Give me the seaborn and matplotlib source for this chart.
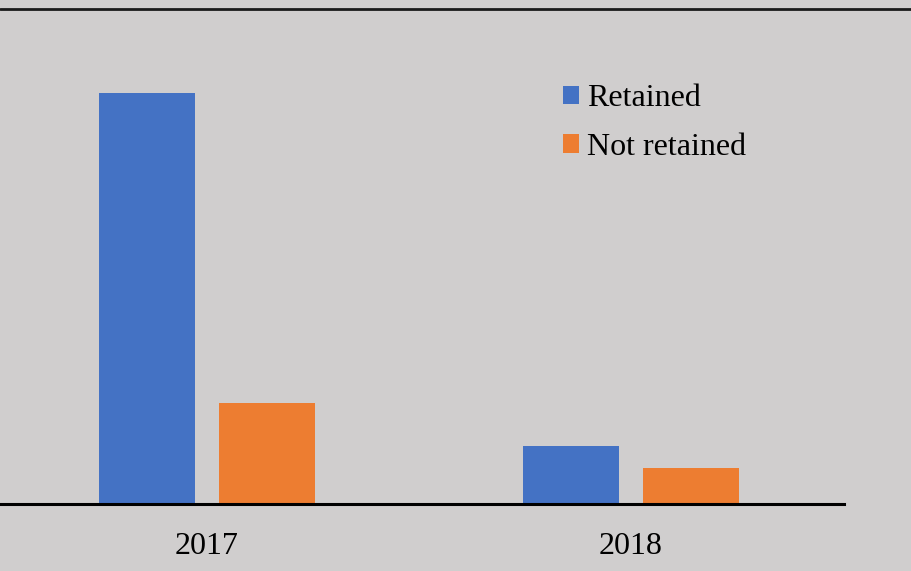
import matplotlib
matplotlib.use("Agg")
import matplotlib.pyplot as plt
from matplotlib.lines import Line2D
from matplotlib.patches import Rectangle
import seaborn as sns
import pandas as pd

# Counts of retained vs. not retained by year
years = ["2017", "2018"]
statuses = ["Retained", "Not retained"]
retained = [57, 8]
not_retained = [14, 5]
colors = ["#4472C4", "#ED7D31"]
bg = "#D0CECE"

df = pd.DataFrame({
    "year": years * 2,
    "status": [statuses[0]] * len(years) + [statuses[1]] * len(years),
    "count": retained + not_retained,
})

sns.set_theme(style="white")
plt.rcParams["font.family"] = ["Liberation Serif", "DejaVu Serif"]

W, H = 911, 571
fig = plt.figure(figsize=(W / 100, H / 100), dpi=100, facecolor=bg)
ax = fig.add_axes([0, 67 / H, 844 / W, 432.6 / H])
ax.set_facecolor(bg)

sns.barplot(data=df, x="year", y="count", hue="status", order=years,
            hue_order=statuses, palette=colors, saturation=1, width=0.566,
            gap=0.2, linewidth=0, legend=False, ax=ax)

ax.set_xlim(-0.4876, 1.503)
ax.set_ylim(0, 60)
ax.set_xlabel("")
ax.set_ylabel("")
ax.set_yticks([])
for side in ["top", "right", "left"]:
    ax.spines[side].set_visible(False)
ax.spines["bottom"].set_color("black")
ax.spines["bottom"].set_linewidth(2.2)
ax.tick_params(axis="x", length=0, pad=20, labelsize=23, colors="black")

# Legend at upper right inside the plot area
handles = [Rectangle((0, 0), 1, 1, facecolor=c, edgecolor="none") for c in colors]
leg = fig.legend(handles, statuses, loc="upper left",
                 bbox_to_anchor=(563 / W, 1 - 84 / H), frameon=False,
                 fontsize=23, handlelength=0.5, handleheight=0.5,
                 handletextpad=0.25, labelspacing=0.62, borderpad=0,
                 borderaxespad=0)
for t in leg.get_texts():
    t.set_color("black")

# Rule across the top of the figure
fig.add_artist(Line2D([0, 1], [1 - 8.5 / H, 1 - 8.5 / H], transform=fig.transFigure,
                      color="#1a1a1a", linewidth=2.0))

fig.savefig("out.png", dpi=100, facecolor=bg)
